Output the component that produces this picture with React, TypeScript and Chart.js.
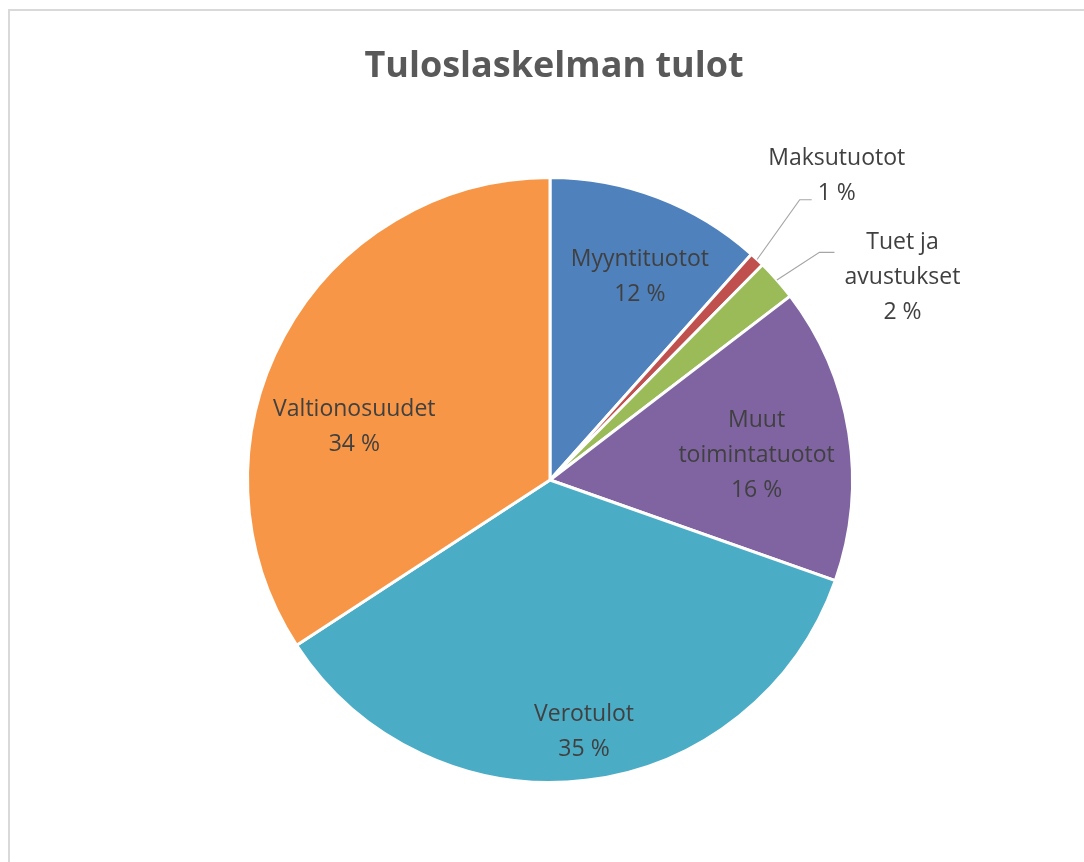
import React, { useEffect, useRef } from "react";
import { Chart, registerables } from "chart.js";

Chart.register(...registerables);

const chartTitle = "Tuloslaskelman tulot";
const categories = [
  "Myyntituotot",
  "Maksutuotot",
  "Tuet ja avustukset",
  "Muut toimintatuotot",
  "Verotulot",
  "Valtionosuudet",
];
const values = [11.6, 0.8, 2.2, 15.8, 35.4, 34.2];
const labelLines = [
  ["Myyntituotot"],
  ["Maksutuotot"],
  ["Tuet ja", "avustukset"],
  ["Muut", "toimintatuotot"],
  ["Verotulot"],
  ["Valtionosuudet"],
];
const colors = ["#4F81BD", "#C0504D", "#9BBB59", "#8064A2", "#4BACC6", "#F79646"];

// label placement: angle (deg clockwise from top) and distance as fraction of radius
const placements = [
  { angle: 23.9, r: 0.733 },
  { angle: 43.3, r: 1.382, leader: { elbow: [-37, 24], end: [-25, 24] } },
  { angle: 60.1, r: 1.344, leader: { elbow: [-83, -25], end: [-68, -25] } },
  { angle: 83.1, r: 0.688 },
  { angle: 172.3, r: 0.839 },
  { angle: 285.1, r: 0.67 },
];

const LABEL_FONT = '23px "Open Sans"';
const TITLE_FONT = 'bold 36px "Open Sans"';
const LINE_H = 35;

const labelPlugin = {
  id: "pieLabels",
  afterDatasetsDraw(chart: any) {
    const ctx = chart.ctx as CanvasRenderingContext2D;
    const meta = chart.getDatasetMeta(0);
    const total = values.reduce((a, b) => a + b, 0);
    ctx.save();
    // title
    ctx.font = TITLE_FONT;
    ctx.fillStyle = "#595959";
    ctx.textAlign = "center";
    ctx.textBaseline = "alphabetic";
    const ca = chart.chartArea;
    ctx.fillText(chartTitle, (ca.left + ca.right) / 2 + 4, 77);

    meta.data.forEach((arc: any, i: number) => {
      const p = arc.getProps(["x", "y", "outerRadius", "startAngle", "endAngle"], true);
      const pl = placements[i];
      const a = ((pl.angle - 90) * Math.PI) / 180;
      const lx = p.x + Math.cos(a) * p.outerRadius * pl.r;
      const ly = p.y + Math.sin(a) * p.outerRadius * pl.r;
      const lines = [...labelLines[i], Math.round((values[i] / total) * 100) + " %"];
      if (pl.leader) {
        const mid = (p.startAngle + p.endAngle) / 2;
        const sx = p.x + Math.cos(mid) * p.outerRadius;
        const sy = p.y + Math.sin(mid) * p.outerRadius;
        ctx.strokeStyle = "#a6a6a6";
        ctx.lineWidth = 1.2;
        ctx.beginPath();
        ctx.moveTo(sx, sy);
        ctx.lineTo(lx + pl.leader.elbow[0], ly + pl.leader.elbow[1]);
        ctx.lineTo(lx + pl.leader.end[0], ly + pl.leader.end[1]);
        ctx.stroke();
      }
      ctx.font = LABEL_FONT;
      ctx.fillStyle = "#404040";
      ctx.textAlign = "center";
      ctx.textBaseline = "middle";
      const top = ly - ((lines.length - 1) * LINE_H) / 2;
      lines.forEach((t, k) => ctx.fillText(t, lx, top + k * LINE_H));
    });
    ctx.restore();
  },
};

export default function App() {
  const ref = useRef<HTMLCanvasElement>(null);
  useEffect(() => {
    if (!ref.current) return;
    const chart = new Chart(ref.current, {
      type: "pie",
      data: {
        labels: categories,
        datasets: [
          {
            data: values,
            backgroundColor: colors,
            borderColor: "#ffffff",
            borderWidth: 3,
          },
        ],
      },
      options: {
        responsive: false,
        animation: false,
        layout: { padding: { top: 176, bottom: 78, left: 246, right: 230 } },
        plugins: {
          legend: { display: false },
          tooltip: { enabled: false },
          title: { display: false },
        },
      },
      plugins: [labelPlugin],
    });
    return () => chart.destroy();
  }, []);

  return (
    <div
      style={{
        position: "fixed",
        left: 0,
        top: 0,
        width: 1084,
        height: 862,
        overflow: "hidden",
        background: "#ffffff",
      }}
    >
      <div
        style={{
          position: "absolute",
          left: 8,
          top: 9,
          width: 1200,
          height: 1000,
          border: "2px solid #d9d9d9",
        }}
      />
      <canvas
        ref={ref}
        width={1084}
        height={862}
        style={{ position: "absolute", left: 0, top: 0, width: 1084, height: 862 }}
      />
    </div>
  );
}
